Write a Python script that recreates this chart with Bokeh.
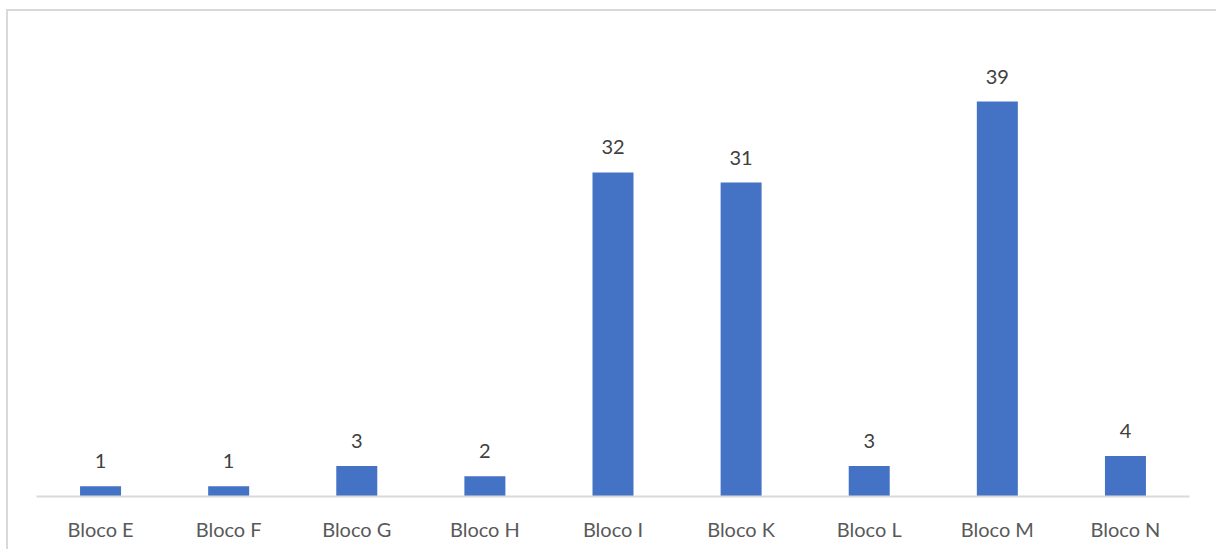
from bokeh.plotting import figure
from bokeh.models import ColumnDataSource, LabelSet, Range1d
from bokeh.core.properties import value
from bokeh.embed import file_html
from bokeh.resources import INLINE

# Number of entries per block
blocks = ["Bloco E", "Bloco F", "Bloco G", "Bloco H", "Bloco I",
          "Bloco K", "Bloco L", "Bloco M", "Bloco N"]
counts = [1, 1, 3, 2, 32, 31, 3, 39, 4]

source = ColumnDataSource(data=dict(
    block=blocks,
    count=counts,
    label=[str(c) for c in counts],
))

p = figure(
    x_range=blocks,
    y_range=Range1d(0, 47.9),
    width=1210,
    height=540,
    output_backend="svg",
    toolbar_location=None,
    min_border_left=28,
    min_border_right=29,
    min_border_top=0,
    min_border_bottom=55,
)
p.margin = (9, 0, 0, 6)
p.styles = {
    "border-left": "2px solid #d9d9d9",
    "border-top": "2px solid #d9d9d9",
}

p.vbar(x="block", top="count", width=0.32, source=source,
       fill_color="#4472c4", line_color=None)

labels = LabelSet(x="block", y="count", text="label", source=source,
                  text_align="center", text_baseline="middle",
                  y_offset=25, text_font=value("Lato"),
                  text_font_size=value("20px"), text_color="#404040")
p.add_layout(labels)

p.outline_line_color = None
p.xgrid.grid_line_color = None
p.ygrid.grid_line_color = None
p.yaxis.visible = False

p.xaxis.axis_line_color = "#d9d9d9"
p.xaxis.axis_line_width = 2
p.xaxis.major_tick_line_color = None
p.xaxis.minor_tick_line_color = None
p.xaxis.major_label_text_font = "Lato"
p.xaxis.major_label_text_font_size = "20px"
p.xaxis.major_label_text_color = "#595959"
p.xaxis.major_label_standoff = 14
p.x_range.range_padding = 0

open("out.html", "w").write(file_html(p, INLINE))
